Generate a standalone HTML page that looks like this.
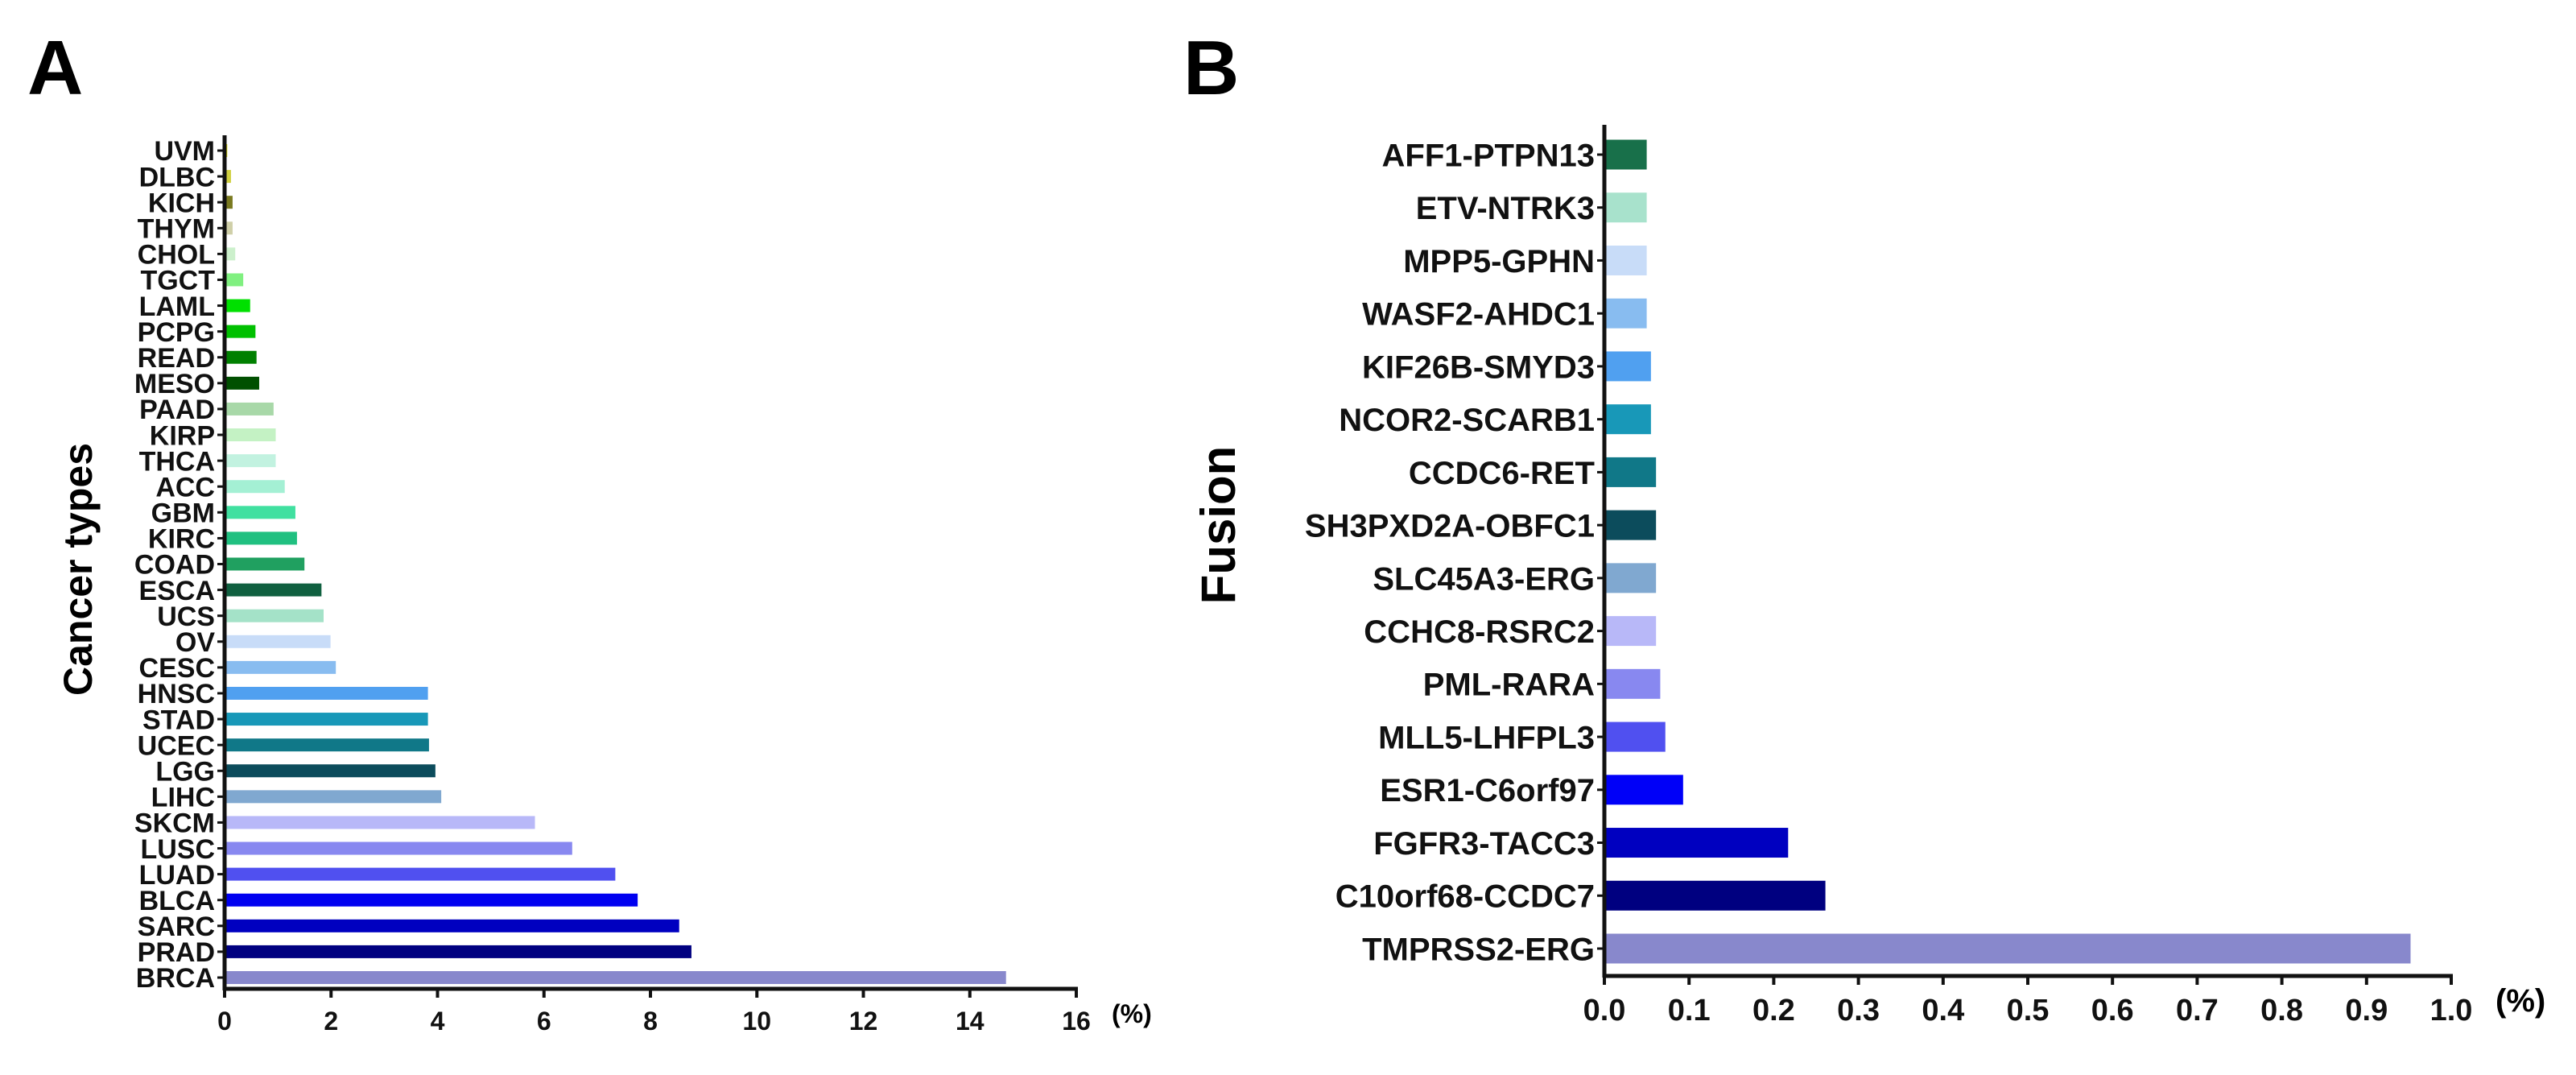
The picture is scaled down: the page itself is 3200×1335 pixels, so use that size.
<!DOCTYPE html>
<html><head><meta charset="utf-8"><style>
html,body{margin:0;padding:0;background:#fff;}
svg{display:block;font-family:"Liberation Sans",Arial,sans-serif;font-weight:bold;}
</style></head><body>
<svg id="fig" width="3200" height="1335" viewBox="0 0 3200 1335" xmlns="http://www.w3.org/2000/svg">
<rect width="3200" height="1335" fill="#fff"/>
<text x="34" y="117" font-size="96" fill="#000">A</text>
<text x="1470" y="117" font-size="96" fill="#000">B</text>
<text transform="translate(114,707) rotate(-90)" text-anchor="middle" font-size="50">Cancer types</text>
<text transform="translate(1534,652) rotate(-90)" text-anchor="middle" font-size="60">Fusion</text>
<text x="1381" y="1270" font-size="32">(%)</text>
<text x="3100" y="1256" font-size="40">(%)</text>
<g id="chartA"></g>
<g id="chartB"></g>
</svg>
<script>
const catsA = ["UVM","DLBC","KICH","THYM","CHOL","TGCT","LAML","PCPG","READ","MESO","PAAD","KIRP","THCA","ACC","GBM","KIRC","COAD","ESCA","UCS","OV","CESC","HNSC","STAD","UCEC","LGG","LIHC","SKCM","LUSC","LUAD","BLCA","SARC","PRAD","BRCA"];
const valsA = [0.05,0.12,0.15,0.15,0.2,0.35,0.48,0.58,0.6,0.65,0.92,0.96,0.96,1.13,1.33,1.36,1.5,1.82,1.86,1.99,2.09,3.82,3.82,3.84,3.96,4.07,5.83,6.53,7.34,7.76,8.54,8.77,14.68];
const colorsA = ["#e2e000","#d0d040","#7a7a20","#cfcfa8","#ccf0cc","#80f080","#00e000","#00c000","#008000","#005000","#a8d8a8","#c4f2c4","#c2f2e0","#a4f0d4","#40e0a0","#20c080","#20a060","#106040","#a4e2c8","#c8dcf8","#88bcf0","#50a0f0","#1898b8","#107888","#0c4c5c","#80a8d0","#b8b8f8","#8888f0","#5050f0","#0000f0","#0000c0","#000080","#8888cc"];
const ticksA = [0,2,4,6,8,10,12,14,16];

const catsB = ["AFF1-PTPN13","ETV-NTRK3","MPP5-GPHN","WASF2-AHDC1","KIF26B-SMYD3","NCOR2-SCARB1","CCDC6-RET","SH3PXD2A-OBFC1","SLC45A3-ERG","CCHC8-RSRC2","PML-RARA","MLL5-LHFPL3","ESR1-C6orf97","FGFR3-TACC3","C10orf68-CCDC7","TMPRSS2-ERG"];
const valsB = [0.05,0.05,0.05,0.05,0.055,0.055,0.061,0.061,0.061,0.061,0.066,0.072,0.093,0.217,0.261,0.952];
const colorsB = ["#18704a","#a8e2cc","#c8dcf8","#88bcf0","#50a0f0","#1898b8","#107888","#0c4c5c","#80a8d0","#b8b8f8","#8888f0","#5050f0","#0000f8","#0000c0","#000080","#8888cc"];
const ticksB = ["0.0","0.1","0.2","0.3","0.4","0.5","0.6","0.7","0.8","0.9","1.0"];

const NS = "http://www.w3.org/2000/svg";
function mk(tag, attrs, parent){const e=document.createElementNS(NS,tag);for(const k in attrs)e.setAttribute(k,attrs[k]);parent.appendChild(e);return e;}

function drawChart(g, cats, vals, colors, ticks, cfg){
  const xs = v => cfg.x0 + (v - cfg.min)/(cfg.max - cfg.min)*(cfg.x1 - cfg.x0);
  const ys = i => cfg.yFirst + i*(cfg.yLast - cfg.yFirst)/(cats.length-1);
  cats.forEach((c,i)=>{
    const y = ys(i);
    const r = mk("rect",{x:cfg.x0,y:y-cfg.bh/2,width:xs(vals[i])-cfg.x0,height:cfg.bh,fill:colors[i]},g);
    
    
    const tk = mk("line",{x1:cfg.x0-9,x2:cfg.x0,y1:y,y2:y,stroke:"#111","stroke-width":3},g);
    
    
    const t = mk("text",{x:cfg.x0-12,y:y+cfg.lfs*0.36,"text-anchor":"end","font-size":cfg.lfs,fill:"#111"},g);
    t.textContent = c;
    
    
  });
  const ax = mk("line",{x1:cfg.x0,x2:cfg.x0,y1:cfg.yTop,y2:cfg.yAxis+2,stroke:"#111","stroke-width":5},g);
  
  
  const bx = mk("line",{x1:cfg.x0-2,x2:cfg.x1+2,y1:cfg.yAxis,y2:cfg.yAxis,stroke:"#111","stroke-width":5},g);
  
  
  ticks.forEach(tv=>{
    const x = xs(parseFloat(tv));
    const l = mk("line",{x1:x,x2:x,y1:cfg.yAxis,y2:cfg.yAxis+11,stroke:"#111","stroke-width":4},g);
    
    
    const t = mk("text",{x:x,y:cfg.tickY,"text-anchor":"middle","font-size":cfg.tfs,fill:"#111"},g);
    t.textContent = tv;
    
    
  });
}
drawChart(document.getElementById("chartA"), catsA, valsA, colorsA, ticksA,
  {x0:279,x1:1337,min:0,max:16,yFirst:187,yLast:1214,bh:16,yTop:168,yAxis:1228,lfs:34,tfs:32,tickY:1279});
drawChart(document.getElementById("chartB"), catsB, valsB, colorsB, ticksB,
  {x0:1993,x1:3045,min:0,max:1,yFirst:192,yLast:1178,bh:37,yTop:155,yAxis:1212,lfs:40,tfs:38,tickY:1267});
</script>
</body></html>
